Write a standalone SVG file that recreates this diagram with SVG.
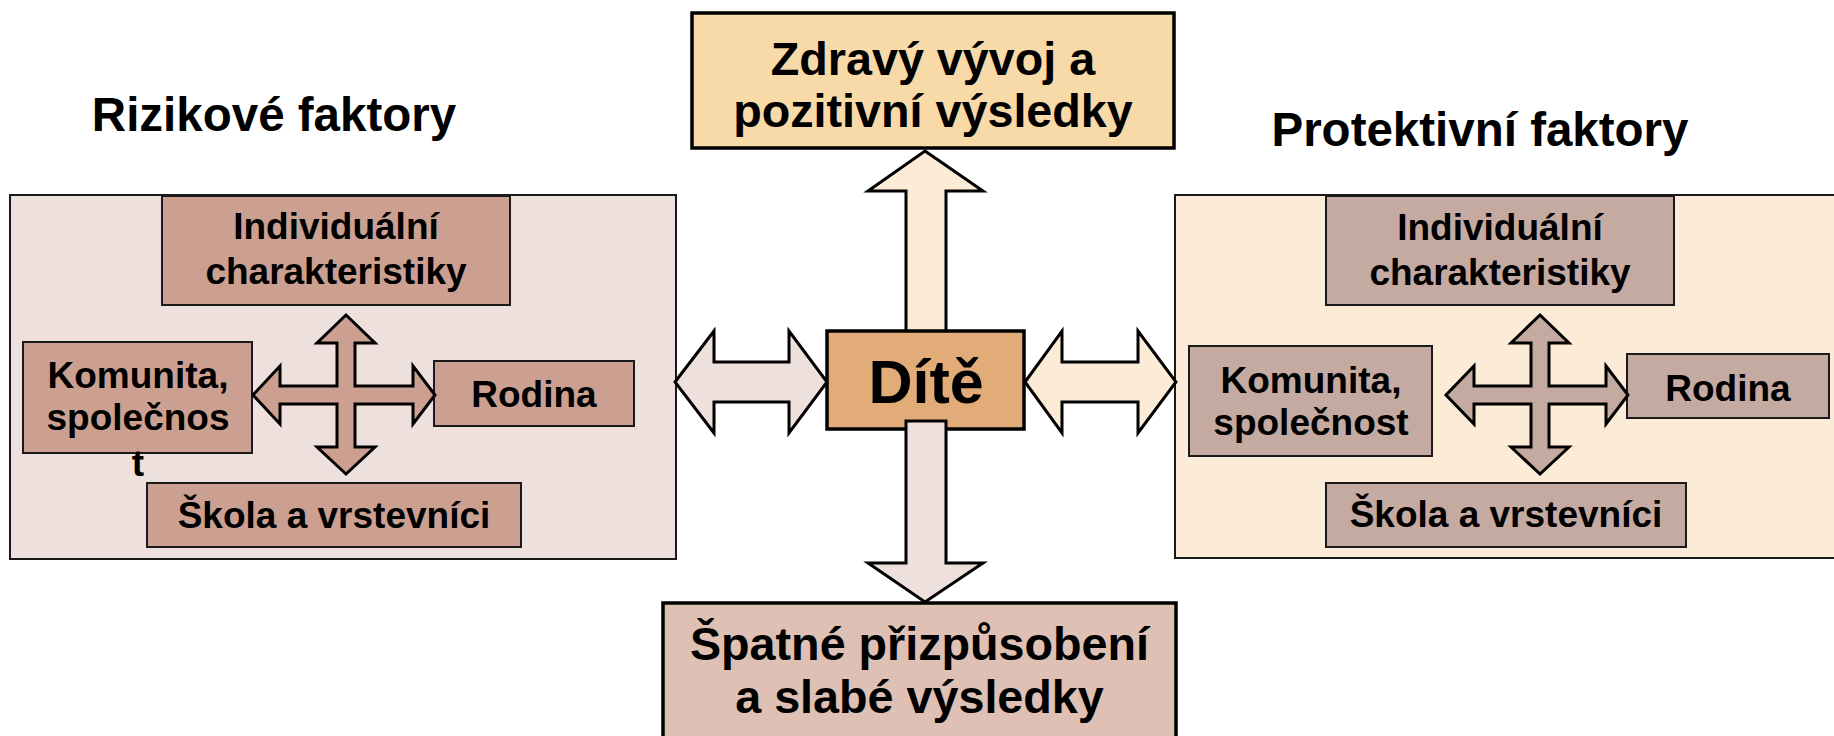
<svg xmlns="http://www.w3.org/2000/svg" width="1834" height="736" viewBox="0 0 1834 736">
<style>
text{font-family:"Liberation Sans",Arial,sans-serif;font-weight:bold;fill:#000;text-anchor:middle}
.title{font-size:47.5px}
.big{font-size:46.7px}
.inner{font-size:37px}
.outerL{fill:#EEE0DC;stroke:#1a1a1a;stroke-width:2}
.outerR{fill:#FCEBD6;stroke:#1a1a1a;stroke-width:2}
.boxL{fill:#CCA090;stroke:#1a1a1a;stroke-width:2}
.boxR{fill:#C4AAA0;stroke:#1a1a1a;stroke-width:2}
.arrow{stroke:#000;stroke-width:3;stroke-linejoin:miter}
.main{stroke:#000;stroke-width:3.5}
</style>
<rect width="1834" height="736" fill="#fff"/>

<text class="title" x="274" y="131">Rizikové faktory</text>
<text class="title" x="1480" y="146">Protektivní faktory</text>

<g id="risk-panel">
<rect class="outerL" x="10" y="195" width="666" height="364"/>
<g id="risk-individual"><rect class="boxL" x="162" y="196" width="348" height="109"/><text class="inner" x="336" y="239">Individuální</text><text class="inner" x="336" y="284">charakteristiky</text></g>
<g id="risk-community"><rect class="boxL" x="23" y="342" width="229" height="111"/><text class="inner" x="138" y="388">Komunita,</text><text class="inner" x="138" y="430">společnos</text><text class="inner" x="138" y="476">t</text></g>
<g id="risk-family"><rect class="boxL" x="434" y="361" width="200" height="65"/><text class="inner" x="534" y="407">Rodina</text></g>
<g id="risk-school"><rect class="boxL" x="147" y="483" width="374" height="64"/><text class="inner" x="334" y="528">Škola a vrstevníci</text></g>
</g>

<g id="protective-panel">
<rect class="outerR" x="1175" y="195" width="670" height="363"/>
<g id="prot-individual"><rect class="boxR" x="1326" y="196" width="348" height="109"/><text class="inner" x="1500" y="240">Individuální</text><text class="inner" x="1500" y="285">charakteristiky</text></g>
<g id="prot-community"><rect class="boxR" x="1189" y="346" width="243" height="110"/><text class="inner" x="1311" y="393">Komunita,</text><text class="inner" x="1311" y="435">společnost</text></g>
<g id="prot-family"><rect class="boxR" x="1627" y="354" width="202" height="64"/><text class="inner" x="1728" y="401">Rodina</text></g>
<g id="prot-school"><rect class="boxR" x="1326" y="483" width="360" height="64"/><text class="inner" x="1506" y="527">Škola a vrstevníci</text></g>
</g>

<g id="connectors">
<polygon class="arrow" fill="#CCA090" points="346,315 375,343 355,343 355,386 413,386 413,366 435,395 413,424 413,404 355,404 355,447 375,447 346,474 317,447 337,447 337,404 280,404 280,424 253,395 280,366 280,386 337,386 337,343 317,343"/>
<polygon class="arrow" fill="#C4AAA0" points="1540,315 1569,343 1549,343 1549,386 1606,386 1606,366 1628,395 1606,424 1606,404 1549,404 1549,447 1569,447 1540,474 1511,447 1531,447 1531,404 1474,404 1474,424 1446,395 1474,366 1474,386 1531,386 1531,343 1511,343"/>
<polygon class="arrow" fill="#FCEBD6" points="925,151 983,191 946,191 946,333 906,333 906,191 868,191"/>
<polygon class="arrow" fill="#EEE0DC" points="675,382 714,331 714,362 789,362 789,331 827,382 789,433 789,402 714,402 714,433"/>
<polygon class="arrow" fill="#FCEBD6" points="1025,382 1062,331 1062,362 1138,362 1138,331 1176,382 1138,433 1138,402 1062,402 1062,433"/>
</g>

<g id="outcome-positive"><rect class="main" x="692" y="13" width="482" height="135" fill="#F8D9A8"/><text class="big" x="933" y="75">Zdravý vývoj a</text><text class="big" x="933" y="127">pozitivní výsledky</text></g>

<g id="child"><rect class="main" x="827" y="331" width="197" height="98" fill="#E2AC78"/><text x="926" y="403" style="font-size:61px">Dítě</text></g>

<g id="connectors-down">
<polygon class="arrow" fill="#EEE0DC" points="906,421 946,421 946,563 983,563 925,602 868,563 906,563"/>
</g>

<g id="outcome-negative"><rect class="main" x="663" y="603" width="513" height="150" fill="#DEC0B4"/><text class="big" x="919.5" y="660">Špatné přizpůsobení</text><text class="big" x="919.5" y="713">a slabé výsledky</text></g>
</svg>
